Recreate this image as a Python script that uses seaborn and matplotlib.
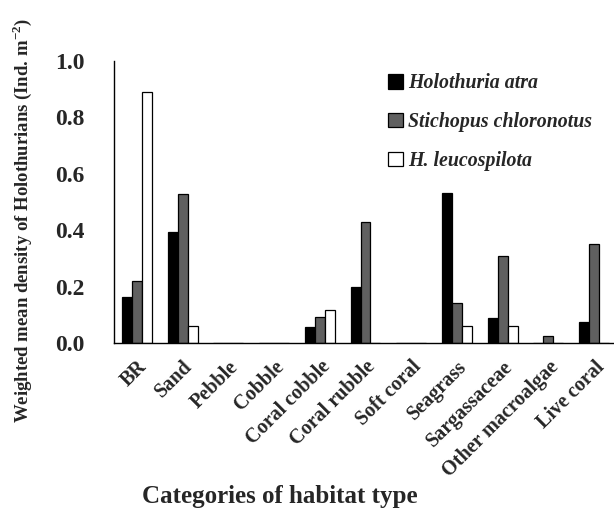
import matplotlib
matplotlib.use("Agg")
import matplotlib.pyplot as plt
import seaborn as sns
import pandas as pd
from matplotlib.patches import Patch

categories = ["BR", "Sand", "Pebble", "Cobble", "Coral cobble", "Coral rubble",
              "Soft coral", "Seagrass", "Sargassaceae", "Other macroalgae", "Live coral"]
species = ["Holothuria atra", "Stichopus chloronotus", "H. leucospilota"]
h_atra = [0.162, 0.392, 0.0, 0.0, 0.058, 0.200, 0.0, 0.531, 0.088, 0.0, 0.075]
s_chloronotus = [0.220, 0.527, 0.0, 0.0, 0.093, 0.430, 0.0, 0.141, 0.308, 0.025, 0.350]
h_leucospilota = [0.889, 0.060, 0.0, 0.0, 0.117, 0.0, 0.0, 0.060, 0.060, 0.0, 0.0]
colors = ["#000000", "#606060", "#ffffff"]

df = pd.DataFrame({
    "Habitat": categories * 3,
    "Species": [species[0]] * 11 + [species[1]] * 11 + [species[2]] * 11,
    "Density": h_atra + s_chloronotus + h_leucospilota,
})

sns.set_style("white")
plt.rcParams["font.family"] = ["Liberation Serif", "DejaVu Serif"]
plt.rcParams["font.weight"] = "bold"
plt.rcParams["mathtext.default"] = "bf"

fig = plt.figure(figsize=(6.14, 5.14), dpi=100)
ax = fig.add_axes([114 / 614, (514 - 343) / 514, 503 / 614, 282 / 514])

sns.barplot(data=df, x="Habitat", y="Density", hue="Species", order=categories,
            hue_order=species, palette=colors, width=0.656, gap=0,
            edgecolor="black", linewidth=0.9, errorbar=None, legend=False, ax=ax)

ax.set_xlim(-0.5, 10.5)
ax.set_ylim(0, 1.0)
ax.set_yticks([0, 0.2, 0.4, 0.6, 0.8, 1.0])
ax.set_yticklabels(["0.0", "0.2", "0.4", "0.6", "0.8", "1.0"], fontsize=17, fontweight="bold")
ax.set_xticks([i - 0.5 for i in range(12)], minor=False)
ax.set_xticklabels([])
ax.set_xticks(range(11), minor=True)
ax.set_xticklabels(categories, minor=True, rotation=45, ha="right", rotation_mode="anchor",
                   fontsize=14.5, fontweight="bold")
ax.tick_params(axis="x", which="minor", length=0, pad=10)
ax.tick_params(axis="x", which="major", direction="out", length=6, width=1, color="black")
ax.tick_params(axis="y", direction="out", length=6, width=1, color="black", pad=15)

for s in ["top", "right"]:
    ax.spines[s].set_visible(False)
for s in ["left", "bottom"]:
    ax.spines[s].set_color("black")
    ax.spines[s].set_linewidth(1)

ax.set_xlabel("")
ax.set_ylabel("")
fig.text(22 / 614, 1 - 220 / 514,
         "Weighted mean density of Holothurians (Ind. m$^{\\mathregular{-2}}$)",
         rotation=90, ha="center", va="center", fontsize=13.5, fontweight="bold")
fig.text(280 / 614, 1 - 497 / 514, "Categories of habitat type", ha="center", va="center",
         fontsize=18, fontweight="bold")

handles = [Patch(facecolor=c, edgecolor="black", linewidth=0.9) for c in colors]
ax.legend(handles, species, loc="upper left", bbox_to_anchor=(0.51, 1.02), frameon=False,
          handlelength=0.75, handleheight=0.75, handletextpad=0.25, labelspacing=0.95,
          prop={"family": ["Liberation Serif"], "style": "italic", "weight": "bold", "size": 14.3})

fig.savefig("out.png", dpi=100)
